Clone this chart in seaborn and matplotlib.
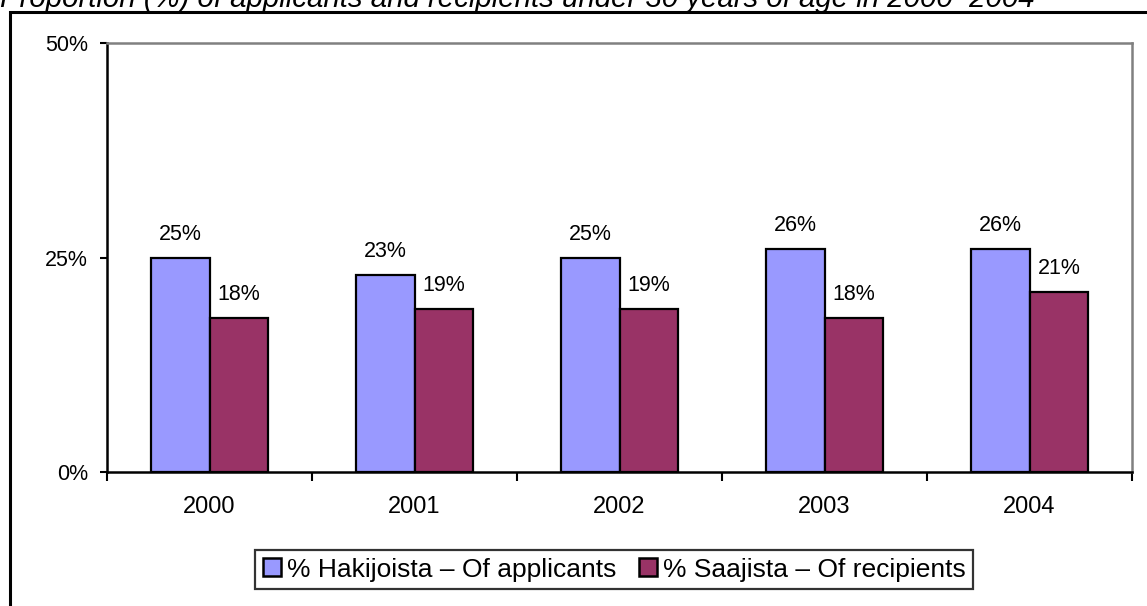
import matplotlib
matplotlib.use("Agg")
import matplotlib.pyplot as plt
import matplotlib.patches as mpatches
import seaborn as sns
import pandas as pd

years = ["2000", "2001", "2002", "2003", "2004"]
applicants = [25, 23, 25, 26, 26]
recipients = [18, 19, 19, 18, 21]
series_names = ["% Hakijoista – Of applicants", "% Saajista – Of recipients"]
colors = ["#9999FF", "#993366"]

df = pd.DataFrame({
    "year": years * 2,
    "value": applicants + recipients,
    "series": [series_names[0]] * len(years) + [series_names[1]] * len(years),
})

sns.set_theme(style="white")
plt.rcParams["font.family"] = ["Liberation Sans", "DejaVu Sans"]
plt.rcParams["text.color"] = "black"
plt.rcParams["xtick.color"] = "black"
plt.rcParams["ytick.color"] = "black"
plt.rcParams["xtick.labelcolor"] = "black"
plt.rcParams["ytick.labelcolor"] = "black"

fig = plt.figure(figsize=(11.47, 6.06), dpi=100)
ax = fig.add_axes([107/1147, 1 - 472/606, (1132-107)/1147, (472-43)/606])

sns.barplot(data=df, x="year", y="value", hue="series", palette=colors,
            width=0.575, edgecolor="black", linewidth=1.6, ax=ax,
            saturation=1, legend=True)

for cont in ax.containers:
    for bar in cont:
        h = bar.get_height()
        ax.annotate(f"{int(round(h))}%", (bar.get_x() + bar.get_width()/2, h),
                    xytext=(0, 9), textcoords="offset points",
                    ha="center", va="bottom", fontsize=15.5, color="black")

ax.set_ylim(0, 50)
ax.set_xlim(-0.5, 4.5)
ax.set_yticks([0, 25, 50])
ax.set_yticklabels(["0%", "25%", "50%"])
ax.set_xlabel("")
ax.set_ylabel("")
ax.tick_params(axis="y", which="both", left=True, direction="out", length=5,
               width=1.5, labelsize=15.5, colors="black", pad=8.5)
ax.set_xticks([-0.5, 0.5, 1.5, 2.5, 3.5, 4.5], minor=True)
ax.set_xticks(range(len(years)))
ax.set_xticklabels(years)
ax.tick_params(axis="x", which="major", bottom=False, length=0, labelsize=17,
               pad=17, labelcolor="black")
ax.tick_params(axis="x", which="minor", bottom=True, direction="out",
               length=6.5, width=1.5, color="black")

for s in ["left", "bottom"]:
    ax.spines[s].set_color("black")
    ax.spines[s].set_linewidth(1.8)
for s in ["top", "right"]:
    ax.spines[s].set_color("#808080")
    ax.spines[s].set_linewidth(1.8)

leg = ax.legend(loc="center left", bbox_to_anchor=(0.1444, -0.2273), ncol=2,
                frameon=True, fancybox=False, fontsize=19,
                handlelength=0.7, handleheight=0.65, handletextpad=0.2,
                columnspacing=0.87, borderpad=0.3, borderaxespad=0,
                edgecolor="black")
leg.get_frame().set_linewidth(1.6)
for t in leg.get_texts():
    t.set_color("black")
for p in leg.get_patches():
    p.set_edgecolor("black")
    p.set_linewidth(1.8)

fig.patches.append(mpatches.Rectangle((10/1147, -0.1), 1.2, (606-12)/606 + 0.1,
                                      transform=fig.transFigure, fill=False,
                                      edgecolor="black", linewidth=2.2, clip_on=False))

fig.text(0.0, 1 - 7/606,
         "Proportion (%) of applicants and recipients under 30 years of age in 2000–2004",
         ha="left", va="baseline", fontsize=21.2, style="italic", color="black")

fig.savefig("out.png", dpi=100)
